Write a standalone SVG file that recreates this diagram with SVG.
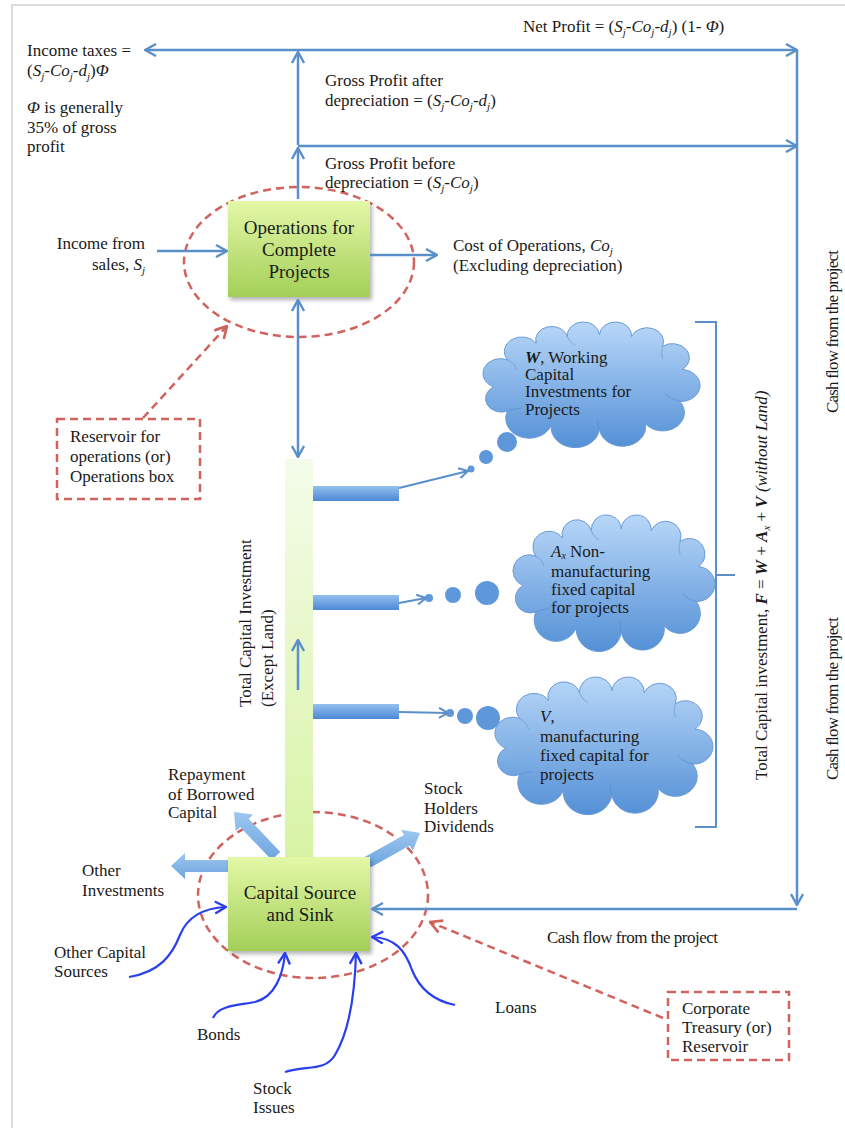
<svg xmlns="http://www.w3.org/2000/svg" width="845" height="1128" viewBox="0 0 845 1128">
<style>
.t{font-family:"Liberation Serif","Times New Roman",serif;font-size:17px;fill:#1a1a1a}
.i{font-style:italic}
.sb{font-size:11px}
.bx{font-family:"Liberation Serif","Times New Roman",serif;font-size:19px;fill:#1a1a1a;text-anchor:middle}
.ln{fill:none;stroke:#5b8fc9;stroke-width:2.5}
.thin{fill:none;stroke:#5b8fc9;stroke-width:2}
.rd{fill:none;stroke:#d0635d;stroke-width:2.5;stroke-dasharray:8 5}
.cv{fill:none;stroke:#2a3ff0;stroke-width:2.2}
.blk{fill:url(#gBlk);stroke:none}
.cl{fill:url(#gCloud);stroke:#6d9bd6;stroke-width:1}
.cin{fill:none;stroke:#4a80c8;stroke-width:1;stroke-opacity:0.45}
.bub{fill:#5f98da}
</style>
<defs>
<linearGradient id="gBox" x1="0" y1="0" x2="0" y2="1"><stop offset="0" stop-color="#e4f8a8"/><stop offset="1" stop-color="#a3cf57"/></linearGradient>
<linearGradient id="gCol" x1="0" y1="0" x2="0" y2="1"><stop offset="0" stop-color="#f4fcea"/><stop offset="1" stop-color="#d8f3a4"/></linearGradient>
<linearGradient id="gBar" x1="0" y1="0" x2="0" y2="1"><stop offset="0" stop-color="#93c0f0"/><stop offset="1" stop-color="#4d88d4"/></linearGradient>
<linearGradient id="gBlk" x1="0" y1="0" x2="0" y2="1"><stop offset="0" stop-color="#9cc6ef"/><stop offset="1" stop-color="#6ea5e0"/></linearGradient>
<linearGradient id="gCloud" x1="0" y1="0" x2="0" y2="1"><stop offset="0" stop-color="#b8d7f8"/><stop offset="1" stop-color="#5490d6"/></linearGradient>
<filter id="sh" x="-10%" y="-10%" width="130%" height="130%"><feDropShadow dx="2" dy="3" stdDeviation="2" flood-color="#000" flood-opacity="0.3"/></filter>
<marker id="ab" viewBox="0 0 14 14" refX="13" refY="7" markerWidth="14" markerHeight="14" markerUnits="userSpaceOnUse" orient="auto-start-reverse"><path d="M2,1 L13,7 L2,13" fill="none" stroke="#5b8fc9" stroke-width="2.4"/></marker>
<marker id="abs" viewBox="0 0 12 12" refX="11" refY="6" markerWidth="12" markerHeight="12" markerUnits="userSpaceOnUse" orient="auto"><path d="M2,1 L11,6 L2,11" fill="none" stroke="#5b8fc9" stroke-width="2"/></marker>
<marker id="ar" viewBox="0 0 14 14" refX="13" refY="7" markerWidth="15" markerHeight="15" markerUnits="userSpaceOnUse" orient="auto"><path d="M2,1 L13,7 L2,13" fill="none" stroke="#d0635d" stroke-width="2.5"/></marker>
<marker id="ac" viewBox="0 0 14 14" refX="13" refY="7" markerWidth="14" markerHeight="14" markerUnits="userSpaceOnUse" orient="auto"><path d="M2,1 L13,7 L2,13" fill="none" stroke="#2a3ff0" stroke-width="2.4"/></marker>
<g id="cloud">
<path class="cl" vector-effect="non-scaling-stroke" d="M30,95 A13.9,13.9 0 0 1 18,70 A15.2,15.2 0 0 1 30,42 A15.1,15.1 0 0 1 55,25 A13.9,13.9 0 0 1 82,18 A14,14 0 0 1 110,16 A14,14 0 0 1 138,18 A14.4,14.4 0 0 1 165,28 A14.7,14.7 0 0 1 182,52 A16.5,16.5 0 0 1 180,85 A18.9,18.9 0 0 1 150,108 A20.2,20.2 0 0 1 110,114 A21.1,21.1 0 0 1 68,110 A20.4,20.4 0 0 1 30,95 Z"/>
<path class="cin" vector-effect="non-scaling-stroke" d="M30,42 Q36,45 38,52 M82,18 Q84,24 89,27 M165,28 Q163,35 165,41 M180,85 Q172,83 167,77 M110,114 Q108,109 109,104 M30,95 Q36,92 42,92"/>
</g>
</defs>

<rect width="845" height="1128" fill="#ffffff"/>
<path d="M12,1128 V5 H845" fill="none" stroke="#dcdcdc" stroke-width="2"/>

<!-- Operations node -->
<g id="operations">
<ellipse cx="299" cy="262" rx="115" ry="75" class="rd"/>
<rect x="228" y="201" width="142" height="96" fill="url(#gBox)" filter="url(#sh)"/>
<text class="bx"><tspan x="299" y="234">Operations for</tspan><tspan x="299" y="256">Complete</tspan><tspan x="299" y="278">Projects</tspan></text>
</g>

<!-- Capital source node -->
<g id="capital-source">
<ellipse cx="313" cy="895" rx="115" ry="83" class="rd"/>
<polygon class="blk" points="228,860 185,860 185,853 171,866 185,879 185,872 228,872"/>
<polygon class="blk" points="280.3,851.9 248.7,818.8 253.1,814.6 234,812 235.7,831.2 240.1,827 271.7,860.1"/>
<polygon class="blk" points="370.9,867.2 409.8,845.5 412.7,850.8 420,833 401.1,829.8 404,835.1 365.1,856.8"/>
</g>

<!-- Investment column -->
<g id="investment-column">
<rect x="285" y="459" width="28" height="400" fill="url(#gCol)"/>
<rect x="313" y="486" width="86" height="15" fill="url(#gBar)"/>
<rect x="313" y="595" width="86" height="15" fill="url(#gBar)"/>
<rect x="313" y="704" width="86" height="15" fill="url(#gBar)"/>
<text class="t" font-size="16.5" transform="translate(251,707) rotate(-90)">Total Capital Investment</text>
<text class="t" font-size="16.5" transform="translate(273,707) rotate(-90)">(Except Land)</text>
</g>

<g id="capital-box">
<rect x="228" y="857" width="142" height="94" fill="url(#gBox)" filter="url(#sh)"/>
<text class="bx"><tspan x="300" y="899">Capital Source</tspan><tspan x="300" y="921">and Sink</tspan></text>
</g>

<!-- Clouds -->
<g id="cloud-w">
<circle class="bub" cx="471" cy="469" r="3.5"/>
<circle class="bub" cx="486" cy="457" r="7"/>
<circle class="bub" cx="507" cy="442" r="10"/>
<use href="#cloud" transform="matrix(1.15 0 0 0.969 472.9 319.1)"/>
<text class="t" font-size="15.5"><tspan x="525" y="363"><tspan class="i" font-weight="bold">W</tspan>, Working</tspan><tspan x="525" y="380">Capital</tspan><tspan x="525" y="397">Investments for</tspan><tspan x="525" y="415">Projects</tspan></text>
</g>
<g id="cloud-a">
<circle class="bub" cx="429" cy="598" r="4"/>
<circle class="bub" cx="453" cy="595" r="8"/>
<circle class="bub" cx="487" cy="593" r="12"/>
<use href="#cloud" transform="matrix(1.07 0 0 1.054 503.6 511.8)"/>
<text class="t" x="551" y="557"><tspan class="i">A</tspan><tspan class="i" font-size="10" dy="2">x</tspan><tspan dy="-2"> Non-</tspan></text>
<text class="t"><tspan x="551" y="577">manufacturing</tspan><tspan x="551" y="595">fixed capital</tspan><tspan x="551" y="613">for projects</tspan></text>
</g>
<g id="cloud-v">
<circle class="bub" cx="450" cy="713" r="4"/>
<circle class="bub" cx="465" cy="716" r="8"/>
<circle class="bub" cx="488" cy="718" r="12"/>
<use href="#cloud" transform="matrix(1.155 0 0 1.062 484.8 673.8)"/>
<text class="t" font-size="16.5"><tspan x="540" y="722"><tspan class="i">V</tspan>,</tspan><tspan x="540" y="742">manufacturing</tspan><tspan x="540" y="761">fixed capital for</tspan><tspan x="540" y="780">projects</tspan></text>
</g>

<!-- Dashed note boxes -->
<g id="reservoir-note">
<rect x="57" y="419" width="143" height="80" class="rd"/>
<text class="t"><tspan x="70" y="442">Reservoir for</tspan><tspan x="70" y="462">operations (or)</tspan><tspan x="70" y="482">Operations box</tspan></text>
</g>
<g id="treasury-note">
<rect x="668" y="992" width="121" height="68" class="rd"/>
<text class="t"><tspan x="682" y="1014">Corporate</tspan><tspan x="682" y="1033">Treasury (or)</tspan><tspan x="682" y="1052">Reservoir</tspan></text>
</g>

<!-- Connectors -->
<g id="connectors">
<path class="ln" d="M145,50 H797" marker-start="url(#ab)" marker-end="url(#ab)"/>
<path class="ln" d="M797,50 V905" marker-end="url(#ab)"/>
<path class="ln" d="M797,909 H372" marker-end="url(#ab)"/>
<path class="ln" d="M298,146 H797" marker-end="url(#ab)"/>
<path class="ln" d="M298,199 V148" marker-end="url(#ab)"/>
<path class="ln" d="M298,145 V52" marker-end="url(#ab)"/>
<path class="ln" d="M298,300 V457" marker-start="url(#ab)" marker-end="url(#ab)"/>
<path class="ln" d="M157,251 H227" marker-end="url(#ab)"/>
<path class="ln" d="M370,255 H437" marker-end="url(#ab)"/>
<path class="ln" d="M298,690 V640" marker-end="url(#ab)"/>
<path class="thin" d="M399,488 L468,471" marker-end="url(#abs)"/>
<path class="thin" d="M399,603 L426,598" marker-end="url(#abs)"/>
<path class="thin" d="M399,712 L448,713" marker-end="url(#abs)"/>
<path class="thin" d="M695,322 H716 V827 H695 M716,575 H735"/>
<path class="rd" d="M143,418 L227,326" marker-end="url(#ar)"/>
<path class="rd" d="M663,1018 L430,922" marker-end="url(#ar)"/>
<path class="cv" d="M129,977 C160,972 172,955 180,935 C188,915 205,908 226,907" marker-end="url(#ac)"/>
<path class="cv" d="M213,1018 C218,1005 240,1005 255,1002 C275,997 283,975 285,953" marker-end="url(#ac)"/>
<path class="cv" d="M285,1072 C305,1065 325,1072 335,1055 C350,1030 355,990 356,953" marker-end="url(#ac)"/>
<path class="cv" d="M455,1005 C430,1000 418,985 412,970 C405,950 395,938 372,937" marker-end="url(#ac)"/>
</g>

<!-- Labels -->
<g id="labels">
<text class="t" x="523" y="32">Net Profit = (<tspan class="i">S</tspan><tspan class="i sb" dy="4">j</tspan><tspan dy="-4">-</tspan><tspan class="i">Co</tspan><tspan class="i sb" dy="4">j</tspan><tspan dy="-4">-</tspan><tspan class="i">d</tspan><tspan class="i sb" dy="4">j</tspan><tspan dy="-4">) (1- </tspan><tspan class="i">Φ</tspan>)</text>
<text class="t" x="27" y="56">Income taxes =</text>
<text class="t" x="27" y="76">(<tspan class="i">S</tspan><tspan class="i sb" dy="4">j</tspan><tspan dy="-4">-</tspan><tspan class="i">Co</tspan><tspan class="i sb" dy="4">j</tspan><tspan dy="-4">-</tspan><tspan class="i">d</tspan><tspan class="i sb" dy="4">j</tspan><tspan dy="-4">)</tspan><tspan class="i">Φ</tspan></text>
<text class="t"><tspan x="27" y="113"><tspan class="i">Φ</tspan> is generally</tspan><tspan x="27" y="133">35% of gross</tspan><tspan x="27" y="152">profit</tspan></text>
<text class="t" x="325" y="86">Gross Profit after</text>
<text class="t" x="325" y="106">depreciation = (<tspan class="i">S</tspan><tspan class="i sb" dy="4">j</tspan><tspan dy="-4">-</tspan><tspan class="i">Co</tspan><tspan class="i sb" dy="4">j</tspan><tspan dy="-4">-</tspan><tspan class="i">d</tspan><tspan class="i sb" dy="4">j</tspan><tspan dy="-4">)</tspan></text>
<text class="t" x="325" y="169">Gross Profit before</text>
<text class="t" x="325" y="188">depreciation = (<tspan class="i">S</tspan><tspan class="i sb" dy="4">j</tspan><tspan dy="-4">-</tspan><tspan class="i">Co</tspan><tspan class="i sb" dy="4">j</tspan><tspan dy="-4">)</tspan></text>
<text class="t" x="145" y="249" text-anchor="end">Income from</text>
<text class="t" x="145" y="270" text-anchor="end">sales, <tspan class="i">S</tspan><tspan class="i sb" dy="4">j</tspan></text>
<text class="t" x="453" y="251">Cost of Operations, <tspan class="i">Co</tspan><tspan class="i sb" dy="4">j</tspan></text>
<text class="t" x="453" y="271">(Excluding depreciation)</text>
<text class="t" font-size="15" transform="translate(767,780) rotate(-90)">Total Capital investment, <tspan class="i" font-weight="bold">F</tspan> = <tspan class="i" font-weight="bold">W</tspan> + <tspan class="i" font-weight="bold">A</tspan><tspan class="i sb" dy="3">x</tspan><tspan dy="-3"> + </tspan><tspan class="i" font-weight="bold">V</tspan>  <tspan class="i">(without Land)</tspan></text>
<text class="t" font-size="15" textLength="163" transform="translate(838,413) rotate(-90)">Cash flow from the project</text>
<text class="t" font-size="15" textLength="163" transform="translate(838,780) rotate(-90)">Cash flow from the project</text>
<text class="t"><tspan x="168" y="780">Repayment</tspan><tspan x="168" y="800">of Borrowed</tspan><tspan x="168" y="818">Capital</tspan></text>
<text class="t"><tspan x="424" y="794">Stock</tspan><tspan x="424" y="814">Holders</tspan><tspan x="424" y="832">Dividends</tspan></text>
<text class="t"><tspan x="82" y="876">Other</tspan><tspan x="82" y="896">Investments</tspan></text>
<text class="t"><tspan x="54" y="958">Other Capital</tspan><tspan x="54" y="977">Sources</tspan></text>
<text class="t" x="197" y="1040">Bonds</text>
<text class="t"><tspan x="253" y="1094">Stock</tspan><tspan x="253" y="1113">Issues</tspan></text>
<text class="t" x="495" y="1013">Loans</text>
<text class="t" font-size="15.5" textLength="171" x="547" y="943">Cash flow from the project</text>
</g>
</svg>
